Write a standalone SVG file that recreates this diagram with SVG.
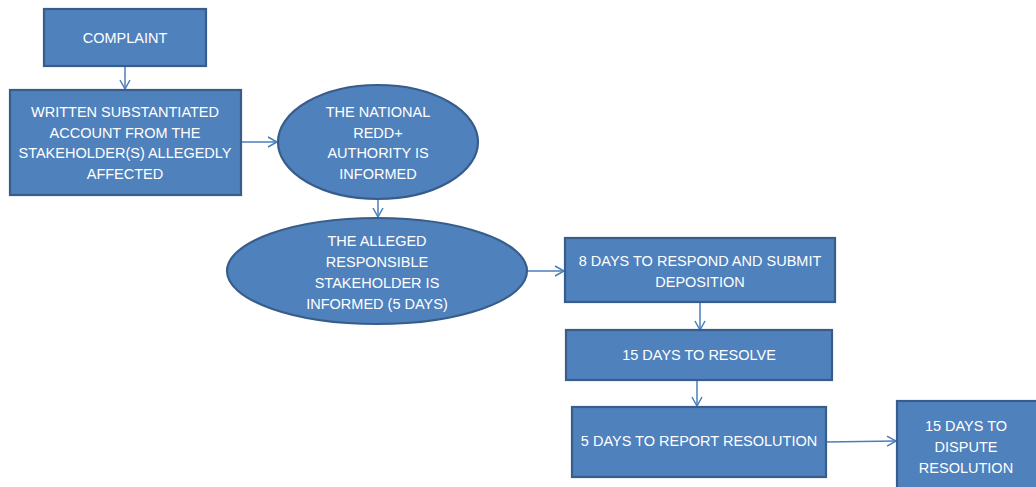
<svg xmlns="http://www.w3.org/2000/svg" width="1036" height="487" viewBox="0 0 1036 487">
<defs>
<style>
.n{fill:#4F81BD;stroke:#385D8A;stroke-width:2.2}
.t{fill:#FFFFFF;font-family:"Liberation Sans",Arial,sans-serif;font-size:14.5px;text-anchor:middle;dominant-baseline:central}
.c{stroke:#4A7EBB;stroke-width:1.5;fill:none}
</style>
<marker id="a" markerWidth="12" markerHeight="12" refX="10" refY="6" orient="auto" markerUnits="userSpaceOnUse">
<path d="M1,1 L10,6 L1,11" fill="none" stroke="#4A7EBB" stroke-width="1.5"/>
</marker>
</defs>
<rect width="1036" height="487" fill="#FFFFFF"/>
<g id="connectors">
<line class="c" x1="125" y1="67" x2="125" y2="89" marker-end="url(#a)"/>
<line class="c" x1="241" y1="142" x2="277" y2="142" marker-end="url(#a)"/>
<line class="c" x1="378" y1="200" x2="378" y2="217" marker-end="url(#a)"/>
<line class="c" x1="528" y1="271" x2="564" y2="271" marker-end="url(#a)"/>
<line class="c" x1="700" y1="302" x2="700" y2="330" marker-end="url(#a)"/>
<line class="c" x1="697" y1="380" x2="697" y2="406" marker-end="url(#a)"/>
<line class="c" x1="826" y1="442" x2="896" y2="441" marker-end="url(#a)"/>
</g>
<g id="complaint">
<rect class="n" x="44" y="9" width="162" height="57"/>
<text class="t" x="125" y="38">COMPLAINT</text>
</g>
<g id="written">
<rect class="n" x="10" y="90" width="231" height="105"/>
<text class="t" x="125" y="112">WRITTEN SUBSTANTIATED</text>
<text class="t" x="125" y="133">ACCOUNT FROM THE</text>
<text class="t" x="125" y="153">STAKEHOLDER(S) ALLEGEDLY</text>
<text class="t" x="125" y="174">AFFECTED</text>
</g>
<g id="national">
<ellipse class="n" cx="378" cy="142" rx="100" ry="57"/>
<text class="t" x="378" y="112">THE NATIONAL</text>
<text class="t" x="378" y="133">REDD+</text>
<text class="t" x="378" y="153">AUTHORITY IS</text>
<text class="t" x="378" y="174">INFORMED</text>
</g>
<g id="alleged">
<ellipse class="n" cx="377" cy="271" rx="150" ry="53"/>
<text class="t" x="377" y="241">THE ALLEGED</text>
<text class="t" x="377" y="262">RESPONSIBLE</text>
<text class="t" x="377" y="283">STAKEHOLDER IS</text>
<text class="t" x="377" y="304">INFORMED (5 DAYS)</text>
</g>
<g id="respond">
<rect class="n" x="565" y="238" width="270" height="64"/>
<text class="t" x="700" y="261">8 DAYS TO RESPOND AND SUBMIT</text>
<text class="t" x="700" y="282">DEPOSITION</text>
</g>
<g id="resolve">
<rect class="n" x="566" y="330" width="266" height="50"/>
<text class="t" x="699" y="355">15 DAYS TO RESOLVE</text>
</g>
<g id="report">
<rect class="n" x="572" y="407" width="254" height="70"/>
<text class="t" x="699" y="441">5 DAYS TO REPORT RESOLUTION</text>
</g>
<g id="dispute">
<rect class="n" x="897" y="401" width="145" height="92"/>
<text class="t" x="966" y="426">15 DAYS TO</text>
<text class="t" x="966" y="447">DISPUTE</text>
<text class="t" x="966" y="468">RESOLUTION</text>
</g>
</svg>
